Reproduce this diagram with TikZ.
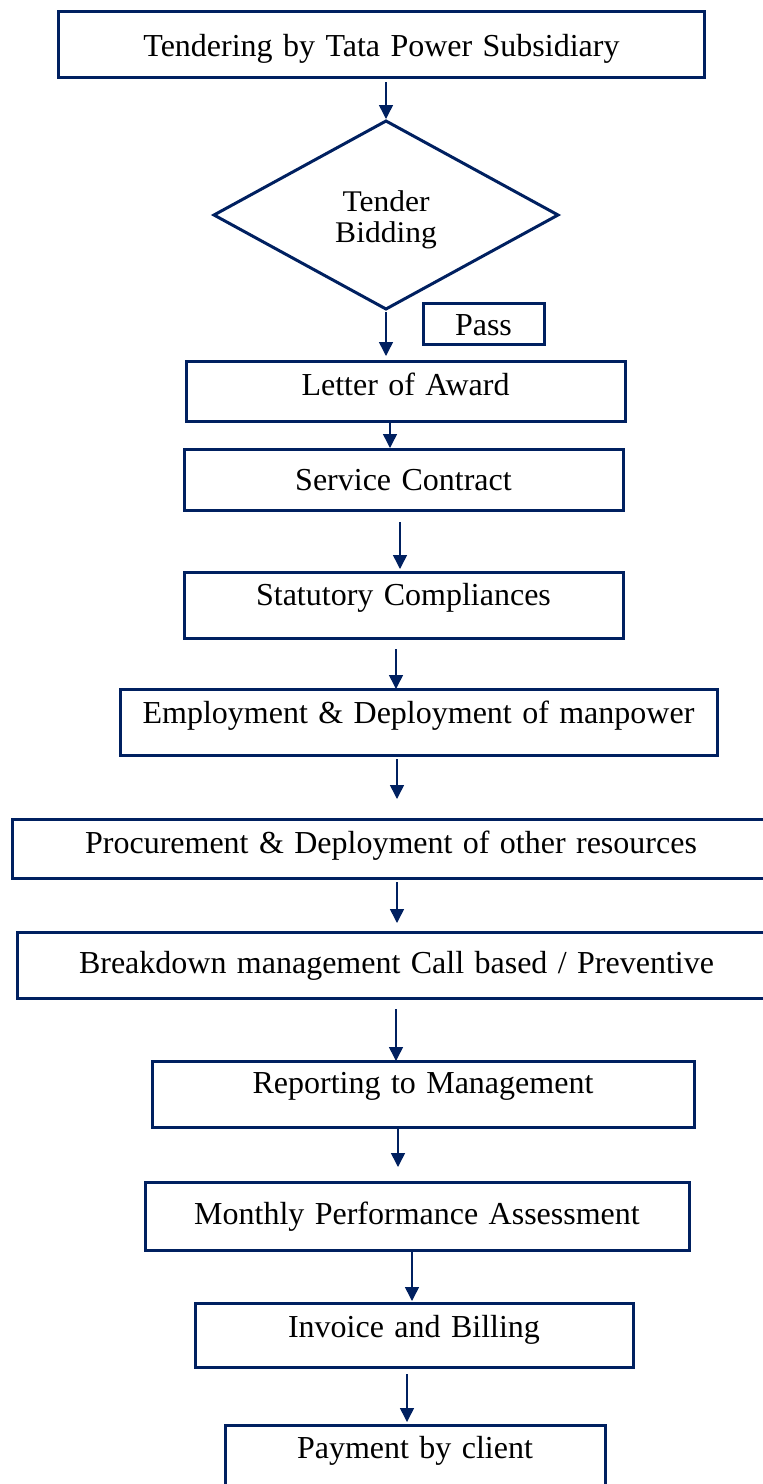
\documentclass[tikz,border=0pt]{standalone}
\usepackage{fontspec}
\setmainfont[WordSpace=1.3]{Liberation Serif}
\newfontfamily\bidface[FakeStretch=1.05]{Liberation Serif}
\usepackage{tikz}
\usetikzlibrary{arrows.meta,positioning,shapes.geometric}
\definecolor{navy}{HTML}{002060}
\newcommand{\flowfont}{\fontsize{32}{36}\selectfont}
\newcommand{\bidfont}{\bidface\fontsize{30}{31}\selectfont}
\tikzset{
       arr/.style = {-{Triangle[length=14pt,width=14pt]}, line width=1.5pt, draw=navy},   % <--- arrow heads
       box/.style = {draw=navy, line width=3pt, rectangle, % <---
                     inner sep=0pt, outer sep=0pt, text depth=0pt,
                     font=\flowfont, align=center},
  decision/.style = {draw=navy, line width=3pt, diamond, % <---
                     inner sep=0pt, outer sep=0pt,
                     text height=54pt, text depth=0pt,
                     font=\bidfont, align=center},
        }

\begin{document}
\begin{tikzpicture}[x=1pt,y=-1pt]
\useasboundingbox (0,0) rectangle (763,1484);
\node[box,minimum width=646,minimum height=66,text height=24pt] (tender) at (381.5,44) {Tendering by Tata Power Subsidiary};
\node[decision,minimum width=344,minimum height=188] (bid) at (386,215) {Tender\\Bidding};
\node[box,minimum width=121,minimum height=41,text height=22pt] (pass) at (483.5,324) {Pass};
\node[box,minimum width=439,minimum height=60,text height=8pt] (loa) at (405.5,391) {Letter of Award};
\node[box,minimum width=439,minimum height=61,text height=21pt] (sc) at (403.5,479.5) {Service Contract};
\node[box,minimum width=439,minimum height=66,text height=0pt] (stat) at (403.5,605) {Statutory Compliances};
\node[box,minimum width=597,minimum height=66,text height=2pt] (emp) at (418.5,722) {Employment \& Deployment of manpower};
\node[box,minimum width=758,minimum height=59,text height=9pt] (proc) at (391,848.5) {Procurement \& Deployment of other resources};
\node[box,minimum width=759,minimum height=66,text height=16pt] (brk) at (396.5,965) {Breakdown management Call based / Preventive};
\node[box,minimum width=542,minimum height=66,text height=0pt,text depth=2pt] (rep) at (423,1094) {Reporting to Management};
\node[box,minimum width=544,minimum height=68,text height=16pt] (mpa) at (417,1216) {Monthly Performance Assessment};
\node[box,minimum width=438,minimum height=64,text height=4pt] (inv) at (414,1335) {Invoice and Billing};
\node[box,minimum width=380,minimum height=68,text height=0pt,text depth=2pt] (pay) at (415,1459) {Payment by client};
% arrows
\draw[arr,shorten <=5pt,shorten >=2pt] (tender.south -| bid.north) -- (bid.north);
\draw[arr,shorten <=3pt,shorten >=5pt] (bid.south) -- ([xshift=-19.5pt]loa.north);
\draw[arr,shorten >=1pt] ([xshift=-15.5pt]loa.south) -- ([xshift=-13.5pt]sc.north);
\draw[arr,shorten <=12pt,shorten >=3pt] ([xshift=-3.5pt]sc.south) -- ([xshift=-3.5pt]stat.north);
\draw[arr,shorten <=11pt] ([xshift=-7.5pt]stat.south) -- ([xshift=-22.5pt]emp.north);
\draw[arr,shorten <=4pt,shorten >=20pt] ([xshift=-21.5pt]emp.south) -- ([xshift=6pt]proc.north);
\draw[arr,shorten <=4pt,shorten >=9pt] ([xshift=6pt]proc.south) -- ([xshift=0.5pt]brk.north);
\draw[arr,shorten <=11pt] ([xshift=-0.5pt]brk.south) -- ([xshift=-27pt]rep.north);
\draw[arr,shorten <=2pt,shorten >=15pt] ([xshift=-25pt]rep.south) -- ([xshift=-19pt]mpa.north);
\draw[arr,shorten <=1pt,shorten >=2pt] ([xshift=-5pt]mpa.south) -- ([xshift=-2pt]inv.north);
\draw[arr,shorten <=7pt,shorten >=3pt] ([xshift=-7pt]inv.south) -- ([xshift=-8pt]pay.north);
\end{tikzpicture}
\end{document}
